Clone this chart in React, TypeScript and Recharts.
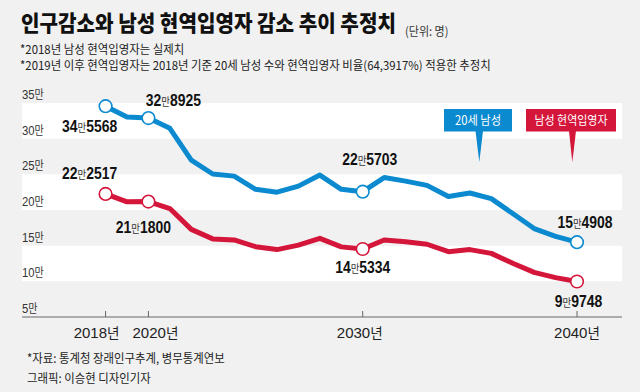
import React from 'react';
import { LineChart, Line, XAxis, YAxis, ReferenceArea, ReferenceLine, LabelList } from 'recharts';

const years = [2018, 2019, 2020, 2021, 2022, 2023, 2024, 2025, 2026, 2027, 2028, 2029, 2030, 2031, 2032, 2033, 2034, 2035, 2036, 2037, 2038, 2039, 2040];
const men20 = [345568, 330500, 328925, 314500, 270000, 250500, 247500, 229000, 225000, 233500, 249000, 229000, 225703, 245500, 240500, 234500, 219000, 223800, 216000, 195000, 174000, 163000, 154908];
const conscripts = [222517, 211500, 211800, 202000, 172800, 159500, 158000, 148500, 144500, 150800, 160300, 148300, 145334, 158000, 155500, 152000, 141500, 144500, 139200, 125300, 112600, 105200, 99748];
const labeledYears = [2018, 2020, 2030, 2040];
const yTicks = [50000, 100000, 150000, 200000, 250000, 300000, 350000];
const bands = [[300000, 350000], [200000, 250000], [100000, 150000]];
const seriesNames = ['20세 남성', '남성 현역입영자'];

const BLUE = '#0b8ad0';
const RED = '#d5163b';
const BG = '#f1f1f1';

const data = years.map((y, i) => ({ year: y, men20: men20[i], conscripts: conscripts[i] }));

const labelOffsets: Record<string, Record<number, [number, number]>> = {
  men20: { 2018: [-16, 26], 2020: [25, -12], 2030: [7, -27], 2040: [8, -14] },
  conscripts: { 2018: [-16, -15], 2020: [-5, 31], 2030: [0, 24.5], 2040: [1.5, 25] },
};
const xTickDx: Record<number, number> = { 2018: -9, 2020: 7, 2030: -3, 2040: 0 };

const NUM_FONT = "'Liberation Sans', Arial, sans-serif";
const KR_FONT = "'Noto Sans CJK KR', 'Noto Sans', sans-serif";

function manLabel(v: number) {
  const hi = Math.floor(v / 10000);
  const lo = String(v % 10000).padStart(4, '0');
  return [String(hi), lo];
}

const makeDot = (color: string) => (props: any) => {
  const { cx, cy, payload, index } = props;
  if (!labeledYears.includes(payload.year)) return <g key={`d${index}`} />;
  return <circle key={`d${index}`} cx={cx} cy={cy} r={6.3} fill="#fff" stroke={color} strokeWidth={1.6} />;
};

const makeLabel = (key: string) => (props: any) => {
  const { x, y, value, index } = props;
  const yr = years[index];
  const off = labelOffsets[key][yr];
  if (!off) return null;
  const [hi, lo] = manLabel(value);
  return (
    <g key={`l${index}`} transform={`translate(${x + off[0]},${y + off[1]}) scale(0.82,1)`}>
      <text x={0} y={0} textAnchor="middle" fill="#111" fontFamily={NUM_FONT} fontWeight="bold" fontSize={17}>
        <tspan>{hi}</tspan>
        <tspan fontFamily={KR_FONT} fontWeight="normal" fontSize={11.5} fill="#333">만</tspan>
        <tspan>{lo}</tspan>
      </text>
    </g>
  );
};

const yLabel = (v: number) => (props: any) => {
  const vb = props.viewBox || {};
  return (
    <g transform={`translate(${vb.x},${vb.y - 4}) scale(0.84,1)`}>
      <text x={0} y={0} fill="#333" fontSize={13.5} fontFamily={NUM_FONT}>
        <tspan>{v / 10000}</tspan>
        <tspan fontFamily={KR_FONT} fontSize={12}>만</tspan>
      </text>
    </g>
  );
};

const XTick = (props: any) => {
  const { x, y, payload } = props;
  return (
    <g>
      <line x1={x} x2={x} y1={y - 6} y2={y} stroke="#666" strokeWidth={1} />
      <text x={x + (xTickDx[payload.value] || 0)} y={y + 21} textAnchor="middle" fill="#222" fontSize={15} fontFamily={NUM_FONT}>
        <tspan>{payload.value}</tspan>
        <tspan fontFamily={KR_FONT} fontSize={13.5}>년</tspan>
      </text>
    </g>
  );
};

const cond = (s: number): React.CSSProperties => ({ transform: `scaleX(${s})`, transformOrigin: 'left top', whiteSpace: 'nowrap' });

export default function App() {
  return (
    <div style={{ position: 'absolute', left: 0, top: 0, width: 640, height: 392, background: BG, overflow: 'hidden', fontFamily: KR_FONT }}>
      <div style={{ position: 'absolute', left: 21, top: 8, fontSize: 22, lineHeight: '26px', fontWeight: 900, color: '#111', ...cond(0.915) }}>
        인구감소와 남성 현역입영자 감소 추이 추정치
      </div>
      <div style={{ position: 'absolute', left: 405, top: 24, fontSize: 12, lineHeight: '14px', color: '#333', ...cond(0.92) }}>(단위: 명)</div>
      <div style={{ position: 'absolute', left: 20, top: 41, fontSize: 12, lineHeight: '15px', color: '#222', ...cond(0.95) }}>*2018년 남성 현역입영자는 실제치</div>
      <div style={{ position: 'absolute', left: 20, top: 57, fontSize: 12, lineHeight: '15px', color: '#222', ...cond(0.95) }}>*2019년 이후 현역입영자는 2018년 기준 20세 남성 수와 현역입영자 비율(64,3917%) 적용한 추정치</div>
      <div style={{ position: 'absolute', left: 27, top: 350, fontSize: 12, lineHeight: '15px', color: '#222', ...cond(0.95) }}>*자료: 통계청 장래인구추계, 병무통계연보</div>
      <div style={{ position: 'absolute', left: 27, top: 370, fontSize: 12, lineHeight: '15px', color: '#222', ...cond(0.95) }}>그래픽: 이승현 디자인기자</div>

      <div style={{ position: 'absolute', left: 0, top: 0 }}>
        <LineChart width={640} height={392} data={data} margin={{ top: 103, right: 18, left: 22, bottom: 45 }}>
          {bands.map((b, i) => (
            <ReferenceArea key={`b${i}`} y1={b[0]} y2={b[1]} fill="#ffffff" fillOpacity={1} stroke="none" />
          ))}
          {yTicks.map((v) => (
            <ReferenceLine key={`y${v}`} y={v} stroke="none" label={yLabel(v)} />
          ))}
          <XAxis dataKey="year" type="number" domain={[2014.1, 2042.1]} ticks={labeledYears} height={30} tickSize={0} tickMargin={0} axisLine={{ stroke: '#666', strokeWidth: 1 }} tickLine={false} tick={<XTick />} interval={0} />
          <YAxis type="number" domain={[50000, 350000]} ticks={yTicks} width={0} axisLine={false} tickLine={false} tick={false} />
          <Line type="linear" dataKey="men20" stroke={BLUE} strokeWidth={5} strokeLinejoin="round" strokeLinecap="round" dot={makeDot(BLUE)} activeDot={false} isAnimationActive={false}>
            <LabelList dataKey="men20" content={makeLabel('men20')} />
          </Line>
          <Line type="linear" dataKey="conscripts" stroke={RED} strokeWidth={5} strokeLinejoin="round" strokeLinecap="round" dot={makeDot(RED)} activeDot={false} isAnimationActive={false}>
            <LabelList dataKey="conscripts" content={makeLabel('conscripts')} />
          </Line>
        </LineChart>
      </div>

      <svg width={640} height={392} style={{ position: 'absolute', left: 0, top: 0, pointerEvents: 'none' }}>
        <rect x={444} y={109} width={68} height={22.5} fill={BLUE} />
        <polygon points="475.5,131 483,131 479.3,162" fill={BLUE} />
        <text x={478} y={125} textAnchor="middle" fill="#fff" fontSize={12.5} fontFamily={KR_FONT} textLength={46} lengthAdjust="spacingAndGlyphs">{seriesNames[0]}</text>
        <rect x={526} y={109} width={90} height={22.5} fill={RED} />
        <polygon points="569,131 576,131 572.3,162" fill={RED} />
        <text x={571} y={125} textAnchor="middle" fill="#fff" fontSize={12.5} fontFamily={KR_FONT} textLength={73} lengthAdjust="spacingAndGlyphs">{seriesNames[1]}</text>
      </svg>
    </div>
  );
}
